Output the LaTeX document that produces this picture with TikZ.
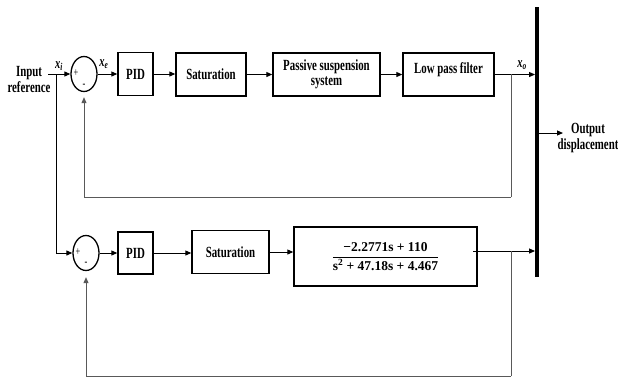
\documentclass[tikz,border=0pt]{standalone}
\usepackage{fontspec}
\setmainfont{Liberation Serif}[FakeStretch=0.7]
\newfontfamily\tffont{Liberation Serif}
\usetikzlibrary{arrows.meta,shapes.geometric}
\begin{document}
\begin{tikzpicture}[x=1pt,y=-1pt,
  blk/.style={draw, line width=1.4pt, inner sep=1pt, align=center,
    font=\fontsize{15.5}{15}\selectfont\bfseries},
  sumnode/.style={draw, ellipse, line width=1.3pt, minimum width=26pt,
    minimum height=35pt, inner sep=0pt},
  conn/.style={line width=1pt, -{Triangle[length=6pt,width=5pt]}},
  fbline/.style={line width=1pt, draw=black!65},
  fbarrow/.style={line width=1pt, draw=black!65, -{Triangle[length=6pt,width=5pt]}},
  txt/.style={align=center, inner sep=0pt, font=\fontsize{15.5}{16}\selectfont\bfseries},
  sig/.style={inner sep=0pt, font=\fontsize{15}{15}\selectfont\bfseries\itshape},
  pm/.style={inner sep=0pt, font=\fontsize{12}{12}\selectfont}]
\useasboundingbox (0,0) rectangle (618,378);

% top row
\node[sumnode] (sum1) at (84,74) {};
\node[pm] (p1) at (76,73) {+};
\node[pm] (m1) at (84,86) {-};
\node[blk, minimum width=35pt, minimum height=43pt] (pid1) at (135.5,74) {PID};
\node[blk, minimum width=70pt, minimum height=43pt] (sat1) at (211,74.5) {Saturation};
\node[blk, minimum width=107pt, minimum height=43pt] (pass) at (326.5,74.5) {Passive suspension\\system};
\node[blk, minimum width=91pt, minimum height=43pt, text height=10pt, text depth=12.6pt] (lpf) at (448.5,74.5) {Low pass filter};

% bottom row
\node[sumnode] (sum2) at (86,253) {};
\node[pm] (p2) at (78,252) {+};
\node[pm] (m2) at (86,264) {-};
\node[blk, minimum width=35pt, minimum height=42pt] (pid2) at (135.5,253) {PID};
\node[blk, minimum width=77pt, minimum height=43pt] (sat2) at (230.5,252) {Saturation};
\node[blk, minimum width=183pt, minimum height=59pt] (tf) at (385.5,256.5)
  {$\displaystyle\frac{\mbox{\tffont\bfseries\fontsize{13.5}{14}\selectfont −2.2771s + 110}}{\mbox{\tffont\bfseries\fontsize{13.5}{14}\selectfont s\textsuperscript{2} + 47.18s + 4.467}}$};

% output bar
\node[fill=black, draw=none, minimum width=3.5pt, minimum height=270pt, inner sep=0pt] (bar) at (537,142) {};

% labels
\node[txt] (inref) at (29,79) {Input\\reference};
\node[sig] (xi) at (59,66) {x\textsubscript{i}};
\node[sig] (xe) at (104,64) {x\textsubscript{e}};
\node[sig] (xo) at (522,65) {x\textsubscript{o}};
\node[txt] (outd) at (588,138) {Output\\displacement};

% coordinates
\coordinate (inp) at (48,74);
\coordinate (br0) at (56,74);
\coordinate (br1) at (511,74);
\coordinate (fb1) at (511,197);
\coordinate (tfo) at (473,251);
\coordinate (br2) at (511,251);
\coordinate (fb2) at (511,376);
\coordinate (outp) at (563,133);

% top connectors
\draw[conn] (inp) -- (sum1.west);
\draw[line width=1pt] (br0) -- (56,253);
\draw[conn] (56,253) -- (sum2.west);
\draw[conn] (sum1.east) -- (pid1.west);
\draw[conn] (pid1.east) -- (pid1.east -| sat1.west);
\draw[conn] (sat1.east) -- (sat1.east -| pass.west);
\draw[conn] (pass.east) -- (pass.east -| lpf.west);
\draw[conn] (lpf.east) -- (lpf.east -| bar.west);
\draw[fbline] (br1) -- (fb1);
\draw[fbarrow] (fb1) -| ([yshift=-5pt]sum1.south);

% bottom connectors
\draw[conn] (sum2.east) -- (pid2.west);
\draw[conn] (pid2.east) -- (pid2.east -| sat2.west);
\draw[conn] (sat2.east) -- (sat2.east -| tf.west);
\draw[conn] (tfo) -- (tfo -| bar.west);
\draw[fbline] (br2) -- (fb2);
\draw[fbarrow] (fb2) -| ([yshift=-6pt]sum2.south);

% output
\draw[conn] (bar.east |- outp) -- (outp);
\end{tikzpicture}
\end{document}
